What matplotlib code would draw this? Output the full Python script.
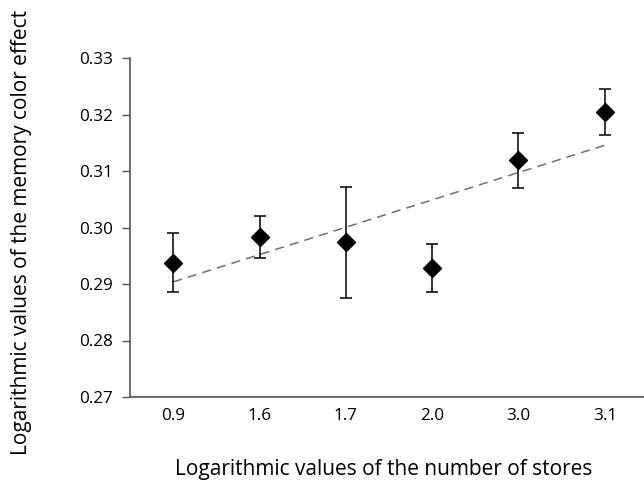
import numpy as np
import matplotlib
matplotlib.use("Agg")
import matplotlib.pyplot as plt

categories = ["0.9", "1.6", "1.7", "2.0", "3.0", "3.1"]
means = [0.2938, 0.2984, 0.2974, 0.2928, 0.3119, 0.3205]
err_upper = [0.2990, 0.3021, 0.3072, 0.2971, 0.3168, 0.3246]
err_lower = [0.2886, 0.2946, 0.2876, 0.2886, 0.3070, 0.3163]
yticks = [0.27, 0.28, 0.29, 0.30, 0.31, 0.32, 0.33]

plt.rcParams['font.family'] = ['Open Sans', 'DejaVu Sans']

fig = plt.figure(figsize=(6.44, 4.83), dpi=100)
ax = fig.add_axes([130/644, 86/483, 518/644, 339/483])

x = np.arange(len(categories))
m = np.array(means)
yerr = np.vstack([m - np.array(err_lower), np.array(err_upper) - m])

# trend line (linear fit over category index)
coef = np.polyfit(x, m, 1)
ax.plot([x[0], x[-1]], np.polyval(coef, [x[0], x[-1]]), color='#707070',
        lw=1.1, dashes=(6, 4), zorder=1)

ax.errorbar(x, m, yerr=yerr, fmt='D', color='black', ecolor='black',
            markersize=9, elinewidth=1.1, capsize=4, capthick=1.1, zorder=3)

ax.set_xlim(-0.5, 5.5)
ax.set_ylim(0.27, 0.33)
ax.set_yticks(yticks)
ax.set_yticklabels([f"{v:.2f}" for v in yticks], fontsize=12.3)
ax.set_xticks(x)
ax.set_xticklabels(categories, fontsize=12.3)
ax.tick_params(axis='x', length=0, pad=8)
ax.tick_params(axis='y', length=6, width=1, color='#555555', pad=6)
for s in ['top', 'right']:
    ax.spines[s].set_visible(False)
for s in ['left', 'bottom']:
    ax.spines[s].set_color('#555555')
    ax.spines[s].set_linewidth(1.2)

fig.text(22/644, 1 - 232/483, "Logarithmic values of the memory color effect",
         rotation=90, ha='center', va='center', fontsize=15)
fig.text(384/644, 1 - 469/483, "Logarithmic values of the number of stores",
         ha='center', va='center', fontsize=15)

fig.savefig("out.png", dpi=100)
